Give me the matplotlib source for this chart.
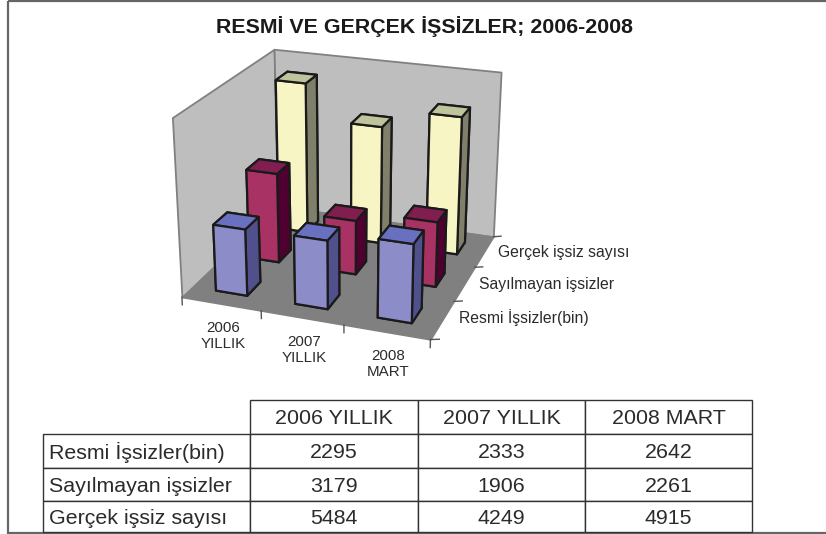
import numpy as np
import matplotlib
matplotlib.use("Agg")
import matplotlib.pyplot as plt
from matplotlib.table import Table
from matplotlib.patches import Rectangle
from mpl_toolkits.mplot3d.art3d import Poly3DCollection

plt.rcParams['font.family'] = ['Liberation Sans', 'DejaVu Sans']

title = "RESMİ VE GERÇEK İŞSİZLER; 2006-2008"
periods = ["2006 YILLIK", "2007 YILLIK", "2008 MART"]
axis_periods = ["2006\nYILLIK", "2007\nYILLIK", "2008\nMART"]
series_names = ["Resmi İşsizler(bin)", "Sayılmayan işsizler", "Gerçek işsiz sayısı"]
resmi = [2295, 2333, 2642]
sayilmayan = [3179, 1906, 2261]
gercek = [5484, 4249, 4915]
series = [resmi, sayilmayan, gercek]
zmax = 6000

# (bottom, top, front, back, left, right) face colours
face_colors = [
    ['#50508c', '#6a70c0', '#8c8cc8', '#50508c', '#50508c', '#50508c'],
    ['#500030', '#801e50', '#a83264', '#500030', '#500030', '#500030'],
    ['#80806a', '#c0c49c', '#f8f5c4', '#80806a', '#80806a', '#80806a'],
]

W, H = 826, 534
fig = plt.figure(figsize=(W/100, H/100), dpi=100)
fig.patch.set_facecolor('white')

side, cx, cy = 384.0, 340.3, 347.0
ax = fig.add_axes([(cx-side/2)/W, (cy-side/2)/H, side/W, side/H], projection='3d', computed_zorder=False)
ax.patch.set_alpha(0)
ax.set_xlim(0, 3); ax.set_ylim(0, 3); ax.set_zlim(0, zmax)
ax.set_axis_off()
ax.set_proj_type('persp', focal_length=0.618)
ax.view_init(elev=21.812, azim=-70.271)
ax.set_box_aspect((1.362, 1.312, 1.0), zoom=1)

wall = '#bebebe'; gray = '#808080'
def wall_poly(verts):
    return Poly3DCollection([verts], facecolors=wall, edgecolors=gray, linewidths=1.3, zorder=1)
ax.add_collection3d(wall_poly([(0,0,0),(0,3,0),(0,3,zmax),(0,0,zmax)]))
ax.add_collection3d(wall_poly([(0,3,0),(3,3,0),(3,3,zmax),(0,3,zmax)]))
ax.add_collection3d(Poly3DCollection([[(0,0,0),(3,0,0),(3,3,0),(0,3,0)]],
                                     facecolors=gray, edgecolors=gray, zorder=2))

# tick marks on the floor's front and right edges
tick_color = '#555555'
for i in range(4):
    ax.plot([i, i], [0, 0], [0, -zmax*0.045], color=tick_color, lw=1, zorder=3)
    ax.plot([3, 3.1], [i, i], [0, 60], color=tick_color, lw=1, zorder=3)

w = 0.4
order = 10
for j in [2, 1, 0]:
    for i in range(3):
        ax.bar3d(i + 0.5 - w/2, j + 0.5 - w/2, 0, w, w, series[j][i],
                 color=face_colors[j], edgecolor='#1a1a1a', linewidth=1.6,
                 shade=False, zorder=order)
        order += 1

ov = fig.add_axes([0, 0, 1, 1], zorder=5)
ov.set_xlim(0, W); ov.set_ylim(H, 0); ov.axis('off')
ov.add_patch(Rectangle((7.5, 0.5), W, 532, fill=False, edgecolor='#666666', lw=1.6))
ov.text(425, 27, title, ha='center', va='center', fontsize=15.4, fontweight='bold', color='#1a1a1a')

txt = '#2b2b2b'
for (x, y), s in zip([(223, 336), (304, 350), (388, 364)], axis_periods):
    ov.text(x, y, s, ha='center', va='center', fontsize=10.9, color=txt, linespacing=1.2)
for (x, y), s in zip([(459, 318), (479, 285), (498, 252)], series_names):
    ov.text(x, y, s, ha='left', va='center', fontsize=11.3, color=txt)

# data table
tx0, tx1, ty0, ty1 = 43, 752, 400, 532
tax = fig.add_axes([tx0/W, (H-ty1)/H, (tx1-tx0)/W, (ty1-ty0)/H], zorder=6)
tax.axis('off')
tbl = Table(tax, bbox=[0, 0, 1, 1])
col_w = [207, 168, 167, 167]
row_h = [33.5, 34.5, 32.5, 31.5]
rows = [[""] + periods] + [[n] + [str(v) for v in s] for n, s in zip(series_names, series)]
for r, row in enumerate(rows):
    for c, val in enumerate(row):
        cell = tbl.add_cell(r, c, col_w[c], row_h[r], text=val,
                            loc='left' if c == 0 else 'center', edgecolor='#333333')
        cell.set_linewidth(1.0)
        cell.get_text().set_color(txt)
        cell.get_text().set_verticalalignment('center_baseline')
        cell.PAD = 0.03
        if r == 0 and c == 0:
            cell.set_linewidth(0)
            cell.visible_edges = ''
tbl.auto_set_font_size(False)
tbl.set_fontsize(15.4)
tax.add_table(tbl)

fig.savefig('out.png', dpi=100)
